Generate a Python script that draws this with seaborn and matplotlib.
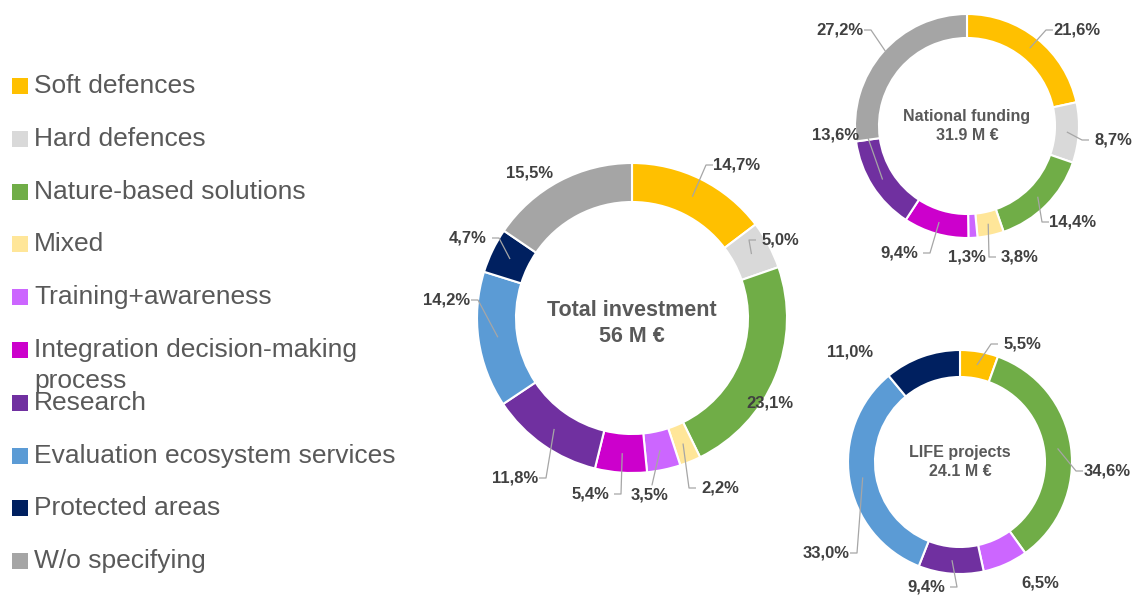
import numpy as np
import matplotlib
matplotlib.use("Agg")
import matplotlib.pyplot as plt
import seaborn as sns

# Categories and colours
categories = [
    "Soft defences", "Hard defences", "Nature-based solutions", "Mixed",
    "Training+awareness", "Integration decision-making\nprocess", "Research",
    "Evaluation ecosystem services", "Protected areas", "W/o specifying",
]
colors = ["#FFC000", "#D9D9D9", "#70AD47", "#FFE699", "#CC66FF",
          "#CC00CC", "#7030A0", "#5B9BD5", "#002060", "#A5A5A5"]

# Shares (%) per funding source, in category order
total_share = [14.7, 5.0, 23.1, 2.2, 3.5, 5.4, 11.8, 14.2, 4.7, 15.5]
national_share = [21.6, 8.7, 14.4, 3.8, 1.3, 9.4, 13.6, 0.0, 0.0, 27.2]
life_share = [5.5, 0.0, 34.6, 0.0, 6.5, 0.0, 9.4, 33.0, 11.0, 0.0]

titles = ["Total investment", "National funding", "LIFE projects"]
amounts = ["56 M €", "31.9 M €", "24.1 M €"]

sns.set_theme(style="white")
plt.rcParams["font.family"] = ["Liberation Sans", "DejaVu Sans"]
palette = sns.color_palette(colors)

W, H = 1137, 596
fig = plt.figure(figsize=(W / 100, H / 100), dpi=100)
fig.patch.set_facecolor("white")
ax = fig.add_axes([0, 0, 1, 1])

TXT = "#404040"
LEG = "#595959"
LINE = "#A6A6A6"


def Y(py):
    return H - py


# Donut layout: centre (px), outer radius, ring width, title font size,
# title line offsets, label offsets (px, y up) for each non-zero slice and
# leader style (0 none, 1 elbow to the side, 2 straight to the top of the label)
donuts = [
    dict(vals=total_share, c=(632, 318), r=155, w=39, fs=15.5, dy=(7, -18),
         offs=[(105, 153, 1), (148, 78, 1), (138, -85, 0), (88, -170, 1),
               (18, -177, 2), (-42, -176, 1), (-117, -160, 1), (-185, 18, 1),
               (-164, 80, 1), (-102, 145, 0)]),
    dict(vals=national_share, c=(967, 126), r=112, w=24, fs=11.5, dy=(10, -10),
         offs=[(110, 96, 1), (146, -14, 1), (106, -96, 1), (53, -131, 1),
               (0, -131, 0), (-68, -127, 1), (-131, -9, 1), (-127, 96, 1)]),
    dict(vals=life_share, c=(960, 462), r=112, w=27, fs=11.5, dy=(10, -10),
         offs=[(62, 118, 1), (147, -9, 1), (80, -121, 0), (-34, -125, 1),
               (-134, -91, 1), (-110, 110, 0)]),
]

HW = 21  # approximate half width of a percentage label, px

for d, title, amount in zip(donuts, titles, amounts):
    vals = np.array(d["vals"])
    keep = vals > 0
    v = vals[keep]
    cols = [palette[i] for i in np.where(keep)[0]]
    cx, cy = d["c"][0], Y(d["c"][1])
    wedges, _ = ax.pie(v, colors=cols, startangle=90, counterclock=False,
                       center=(cx, cy), radius=d["r"],
                       wedgeprops=dict(width=d["w"], edgecolor="white",
                                       linewidth=1.5))
    # Percentage labels with leader lines
    rm = d["r"] - d["w"] / 2
    for wdg, val, (ox, oy, lead) in zip(wedges, v, d["offs"]):
        ang = np.deg2rad((wdg.theta1 + wdg.theta2) / 2)
        tx, ty = cx + ox, cy + oy
        label = f"{val:.1f}%".replace(".", ",")
        ax.text(tx, ty, label, ha="center", va="center", fontsize=12,
                fontweight="bold", color=TXT)
        px, py = cx + rm * np.cos(ang), cy + rm * np.sin(ang)
        if lead == 1:
            s = 1 if tx > px else -1
            e2 = tx - s * (HW + 3)
            e1 = e2 - s * 7
            ax.plot([px, e1, e2], [py, ty, ty], color=LINE, lw=0.9,
                    solid_capstyle="butt")
        elif lead == 2:
            ax.plot([px, tx + 2], [py, ty + 10], color=LINE, lw=0.9)
    # Centre titles
    ax.text(cx, cy + d["dy"][0], title, ha="center", va="center",
            fontsize=d["fs"], fontweight="bold", color=LEG)
    ax.text(cx, cy + d["dy"][1], amount, ha="center", va="center",
            fontsize=d["fs"], fontweight="bold", color=LEG)

# Legend on the left
for i, (name, col) in enumerate(zip(categories, palette)):
    yc = 86 + 52.8 * i
    ax.add_patch(plt.Rectangle((12, Y(yc) - 8), 16, 16, facecolor=col,
                               edgecolor="none"))
    for k, line in enumerate(name.split("\n")):
        ax.text(34, Y(yc + 31 * k), line, ha="left", va="center",
                fontsize=19, color=LEG)

ax.set_xlim(0, W)
ax.set_ylim(0, H)
ax.set_aspect("equal")
ax.axis("off")

fig.savefig("out.png", dpi=100, facecolor="white")
